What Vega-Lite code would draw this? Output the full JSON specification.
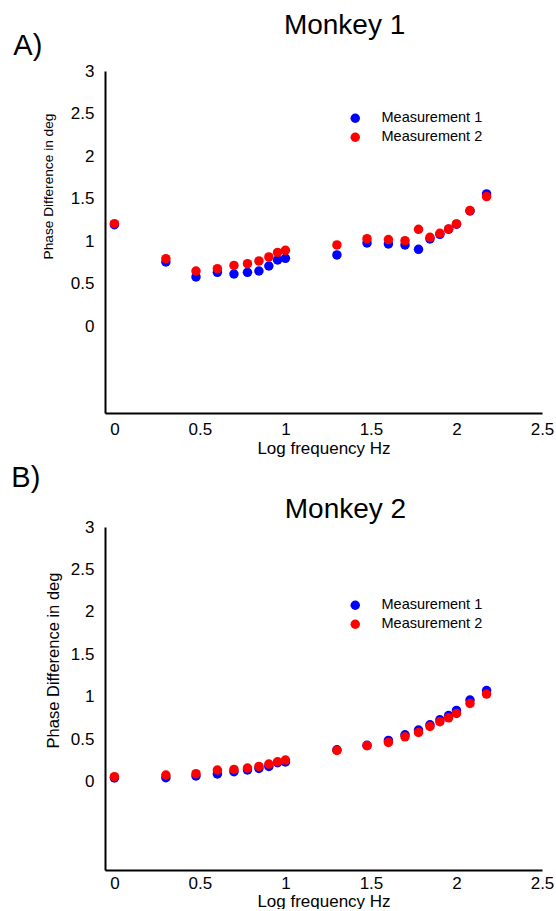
{
  "$schema": "https://vega.github.io/schema/vega-lite/v6.json",
  "background": "white",
  "padding": {"left": 11, "top": 12, "right": 0, "bottom": 0},
  "spacing": 8,
  "resolve": {"scale": {"color": "independent"}, "legend": {"color": "independent"}},
  "config": {
    "font": "Liberation Sans",
    "view": {"stroke": null},
    "title": {"color": "black", "fontWeight": "normal", "font": "Liberation Sans"},
    "axis": {
      "grid": false,
      "ticks": false,
      "tickSize": 0,
      "domainColor": "black",
      "domainWidth": 2,
      "labelColor": "black",
      "labelFont": "Liberation Sans",
      "labelFontSize": 17,
      "labelFlush": false,
      "format": "~g",
      "titleColor": "black",
      "titleFont": "Liberation Sans",
      "titleFontWeight": "normal"
    },
    "legend": {
      "labelFont": "Liberation Sans",
      "labelFontSize": 14.5,
      "labelColor": "black"
    }
  },
  "datasets": {
    "monkey1": [
      {"logf": 0.000, "phase": 1.194, "series": "Measurement 1"},
      {"logf": 0.301, "phase": 0.755, "series": "Measurement 1"},
      {"logf": 0.477, "phase": 0.579, "series": "Measurement 1"},
      {"logf": 0.602, "phase": 0.633, "series": "Measurement 1"},
      {"logf": 0.699, "phase": 0.614, "series": "Measurement 1"},
      {"logf": 0.778, "phase": 0.633, "series": "Measurement 1"},
      {"logf": 0.845, "phase": 0.649, "series": "Measurement 1"},
      {"logf": 0.903, "phase": 0.708, "series": "Measurement 1"},
      {"logf": 0.954, "phase": 0.779, "series": "Measurement 1"},
      {"logf": 1.000, "phase": 0.798, "series": "Measurement 1"},
      {"logf": 1.301, "phase": 0.838, "series": "Measurement 1"},
      {"logf": 1.477, "phase": 0.979, "series": "Measurement 1"},
      {"logf": 1.602, "phase": 0.967, "series": "Measurement 1"},
      {"logf": 1.699, "phase": 0.955, "series": "Measurement 1"},
      {"logf": 1.778, "phase": 0.904, "series": "Measurement 1"},
      {"logf": 1.845, "phase": 1.026, "series": "Measurement 1"},
      {"logf": 1.903, "phase": 1.080, "series": "Measurement 1"},
      {"logf": 1.954, "phase": 1.140, "series": "Measurement 1"},
      {"logf": 2.000, "phase": 1.200, "series": "Measurement 1"},
      {"logf": 2.079, "phase": 1.355, "series": "Measurement 1"},
      {"logf": 2.176, "phase": 1.555, "series": "Measurement 1"},
      {"logf": 0.000, "phase": 1.206, "series": "Measurement 2"},
      {"logf": 0.301, "phase": 0.794, "series": "Measurement 2"},
      {"logf": 0.477, "phase": 0.649, "series": "Measurement 2"},
      {"logf": 0.602, "phase": 0.676, "series": "Measurement 2"},
      {"logf": 0.699, "phase": 0.715, "series": "Measurement 2"},
      {"logf": 0.778, "phase": 0.735, "series": "Measurement 2"},
      {"logf": 0.845, "phase": 0.767, "series": "Measurement 2"},
      {"logf": 0.903, "phase": 0.814, "series": "Measurement 2"},
      {"logf": 0.954, "phase": 0.868, "series": "Measurement 2"},
      {"logf": 1.000, "phase": 0.892, "series": "Measurement 2"},
      {"logf": 1.301, "phase": 0.955, "series": "Measurement 2"},
      {"logf": 1.477, "phase": 1.029, "series": "Measurement 2"},
      {"logf": 1.602, "phase": 1.018, "series": "Measurement 2"},
      {"logf": 1.699, "phase": 1.006, "series": "Measurement 2"},
      {"logf": 1.778, "phase": 1.139, "series": "Measurement 2"},
      {"logf": 1.845, "phase": 1.045, "series": "Measurement 2"},
      {"logf": 1.903, "phase": 1.092, "series": "Measurement 2"},
      {"logf": 1.954, "phase": 1.144, "series": "Measurement 2"},
      {"logf": 2.000, "phase": 1.202, "series": "Measurement 2"},
      {"logf": 2.079, "phase": 1.359, "series": "Measurement 2"},
      {"logf": 2.176, "phase": 1.524, "series": "Measurement 2"}
    ],
    "monkey2": [
      {"logf": 0.000, "phase": 0.044, "series": "Measurement 1"},
      {"logf": 0.301, "phase": 0.047, "series": "Measurement 1"},
      {"logf": 0.477, "phase": 0.067, "series": "Measurement 1"},
      {"logf": 0.602, "phase": 0.091, "series": "Measurement 1"},
      {"logf": 0.699, "phase": 0.118, "series": "Measurement 1"},
      {"logf": 0.778, "phase": 0.138, "series": "Measurement 1"},
      {"logf": 0.845, "phase": 0.156, "series": "Measurement 1"},
      {"logf": 0.903, "phase": 0.180, "series": "Measurement 1"},
      {"logf": 0.954, "phase": 0.224, "series": "Measurement 1"},
      {"logf": 1.000, "phase": 0.232, "series": "Measurement 1"},
      {"logf": 1.301, "phase": 0.376, "series": "Measurement 1"},
      {"logf": 1.477, "phase": 0.429, "series": "Measurement 1"},
      {"logf": 1.602, "phase": 0.486, "series": "Measurement 1"},
      {"logf": 1.699, "phase": 0.553, "series": "Measurement 1"},
      {"logf": 1.778, "phase": 0.608, "series": "Measurement 1"},
      {"logf": 1.845, "phase": 0.671, "series": "Measurement 1"},
      {"logf": 1.903, "phase": 0.729, "series": "Measurement 1"},
      {"logf": 1.954, "phase": 0.780, "series": "Measurement 1"},
      {"logf": 2.000, "phase": 0.839, "series": "Measurement 1"},
      {"logf": 2.079, "phase": 0.961, "series": "Measurement 1"},
      {"logf": 2.176, "phase": 1.074, "series": "Measurement 1"},
      {"logf": 0.000, "phase": 0.059, "series": "Measurement 2"},
      {"logf": 0.301, "phase": 0.079, "series": "Measurement 2"},
      {"logf": 0.477, "phase": 0.094, "series": "Measurement 2"},
      {"logf": 0.602, "phase": 0.138, "series": "Measurement 2"},
      {"logf": 0.699, "phase": 0.145, "series": "Measurement 2"},
      {"logf": 0.778, "phase": 0.161, "series": "Measurement 2"},
      {"logf": 0.845, "phase": 0.180, "series": "Measurement 2"},
      {"logf": 0.903, "phase": 0.208, "series": "Measurement 2"},
      {"logf": 0.954, "phase": 0.235, "series": "Measurement 2"},
      {"logf": 1.000, "phase": 0.255, "series": "Measurement 2"},
      {"logf": 1.301, "phase": 0.368, "series": "Measurement 2"},
      {"logf": 1.477, "phase": 0.424, "series": "Measurement 2"},
      {"logf": 1.602, "phase": 0.462, "series": "Measurement 2"},
      {"logf": 1.699, "phase": 0.529, "series": "Measurement 2"},
      {"logf": 1.778, "phase": 0.580, "series": "Measurement 2"},
      {"logf": 1.845, "phase": 0.651, "series": "Measurement 2"},
      {"logf": 1.903, "phase": 0.706, "series": "Measurement 2"},
      {"logf": 1.954, "phase": 0.753, "series": "Measurement 2"},
      {"logf": 2.000, "phase": 0.804, "series": "Measurement 2"},
      {"logf": 2.079, "phase": 0.921, "series": "Measurement 2"},
      {"logf": 2.176, "phase": 1.032, "series": "Measurement 2"}
    ]
  },
  "vconcat": [
    {
      "title": {"text": "Monkey 1", "fontSize": 28, "anchor": "middle", "offset": -8, "dx": 61},
      "resolve": {"scale": {"color": "independent"}, "legend": {"color": "independent"}},
      "vconcat": [
        {
          "title": {"text": "A)", "fontSize": 29, "anchor": "start", "frame": "bounds", "offset": 1, "dx": -28},
          "width": 437,
          "height": 342,
          "data": {"name": "monkey1"},
          "mark": {"type": "circle", "size": 90, "opacity": 1},
          "encoding": {
            "x": {
              "field": "logf", "type": "quantitative",
              "scale": {"domain": [-0.055, 2.5], "nice": false, "zero": false},
              "axis": {"title": "Log frequency Hz", "values": [0, 0.5, 1, 1.5, 2, 2.5], "titleFontSize": 17, "labelPadding": 8, "titlePadding": 3}
            },
            "y": {
              "field": "phase", "type": "quantitative",
              "scale": {"domain": [-1.02, 3], "nice": false, "zero": false},
              "axis": {"title": "Phase Difference in deg", "values": [0, 0.5, 1, 1.5, 2, 2.5, 3], "titleFontSize": 13.7, "labelPadding": 11, "titlePadding": 15, "titleY": 115}
            },
            "color": {
              "field": "series", "type": "nominal",
              "scale": {"domain": ["Measurement 1", "Measurement 2"], "range": ["#0000FF", "#FF0000"]},
              "legend": {"title": null, "orient": "none", "legendX": 243, "legendY": 40, "symbolType": "circle", "symbolSize": 90, "symbolOpacity": 1, "labelOffset": 19, "rowPadding": 4, "padding": 0}
            }
          }
        }
      ]
    },
    {
      "title": {"text": "B)", "fontSize": 29, "anchor": "start", "frame": "bounds", "offset": 3, "dx": -34},
      "resolve": {"scale": {"color": "independent"}, "legend": {"color": "independent"}},
      "vconcat": [
        {
          "title": {"text": "Monkey 2", "fontSize": 28, "anchor": "middle", "offset": -6, "dx": 22},
          "width": 437,
          "height": 343,
          "data": {"name": "monkey2"},
          "mark": {"type": "circle", "size": 90, "opacity": 1},
          "encoding": {
            "x": {
              "field": "logf", "type": "quantitative",
              "scale": {"domain": [-0.055, 2.5], "nice": false, "zero": false},
              "axis": {"title": "Log frequency Hz", "values": [0, 0.5, 1, 1.5, 2, 2.5], "titleFontSize": 17, "labelPadding": 5, "titlePadding": 2}
            },
            "y": {
              "field": "phase", "type": "quantitative",
              "scale": {"domain": [-1.04, 3], "nice": false, "zero": false},
              "axis": {"title": "Phase Difference in deg", "values": [0, 0.5, 1, 1.5, 2, 2.5, 3], "titleFontSize": 16.5, "labelPadding": 11, "titlePadding": 9, "titleY": 133}
            },
            "color": {
              "field": "series", "type": "nominal",
              "scale": {"domain": ["Measurement 1", "Measurement 2"], "range": ["#0000FF", "#FF0000"]},
              "legend": {"title": null, "orient": "none", "legendX": 243, "legendY": 71, "symbolType": "circle", "symbolSize": 90, "symbolOpacity": 1, "labelOffset": 19, "rowPadding": 4, "padding": 0}
            }
          }
        }
      ]
    }
  ]
}
